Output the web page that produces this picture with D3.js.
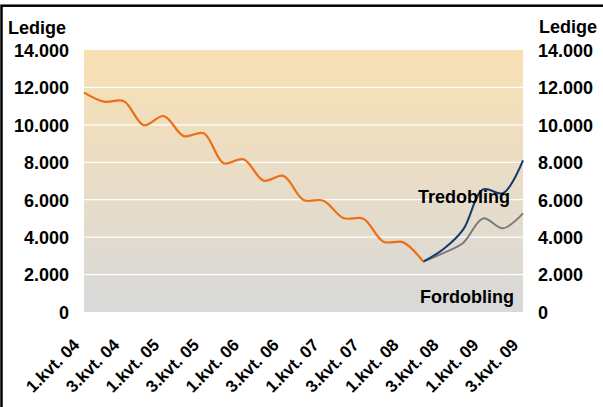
<!DOCTYPE html>
<html lang="da">
<head>
    <meta charset="UTF-8">
    <title>Ledige</title>
    <style>
        body{
            margin : 0;
            background-color: white;
        }
        text{
            font-family : "Liberation Sans", Arial, sans-serif;
            font-weight : bold;
        }
    </style>
</head>
<body>
    <script src="https://cdn.jsdelivr.net/npm/d3@7"></script>
    <script>
        // kvartaler fra 1.kvt. 04 til 3.kvt. 09
        const kvartaler = ["1.kvt. 04","2.kvt. 04","3.kvt. 04","4.kvt. 04",
                           "1.kvt. 05","2.kvt. 05","3.kvt. 05","4.kvt. 05",
                           "1.kvt. 06","2.kvt. 06","3.kvt. 06","4.kvt. 06",
                           "1.kvt. 07","2.kvt. 07","3.kvt. 07","4.kvt. 07",
                           "1.kvt. 08","2.kvt. 08","3.kvt. 08","4.kvt. 08",
                           "1.kvt. 09","2.kvt. 09","3.kvt. 09"];
        const etiketter = ["1.kvt. 04","3.kvt. 04","1.kvt. 05","3.kvt. 05","1.kvt. 06","3.kvt. 06",
                           "1.kvt. 07","3.kvt. 07","1.kvt. 08","3.kvt. 08","1.kvt. 09","3.kvt. 09"];
        const yTicks = [0, 2000, 4000, 6000, 8000, 10000, 12000, 14000];

        // faktiske ledige (1.kvt. 04 - 2.kvt. 08)
        const ledige = [11720, 11240, 11260, 9980, 10470, 9400, 9550, 7950, 8160,
                        7020, 7270, 5985, 5950, 5020, 4980, 3760, 3720, 2690];
        // forløb fra 2.kvt. 08 til 3.kvt. 09
        const tredobling = [2690, 3350, 4400, 6550, 6350, 8100];
        const fordobling = [2690, 3150, 3690, 5000, 4470, 5270];
        const startFremskriv = 17;

        const W = 603, H = 407;
        const plot = {left: 84, right: 523, top: 50, bottom: 312};

        const svg = d3.select('body').append('svg')
            .attr('width', W)
            .attr('height', H);

        const x = d3.scaleLinear().domain([0, kvartaler.length - 1]).range([plot.left, plot.right]);
        const y = d3.scaleLinear().domain([0, 14000]).range([plot.bottom, plot.top]);

        const da = d3.formatLocale({decimal: ",", thousands: ".", grouping: [3], currency: ["", ""]});
        const fmt = da.format(",d");

        // baggrund med farveovergang
        const defs = svg.append('defs');
        const grad = defs.append('linearGradient')
            .attr('id', 'bg')
            .attr('x1', 0).attr('y1', 0).attr('x2', 0).attr('y2', 1);
        grad.append('stop').attr('offset', '0%').attr('stop-color', '#f9e0b3');
        grad.append('stop').attr('offset', '100%').attr('stop-color', '#d8d9da');

        svg.append('rect')
            .attr('x', plot.left)
            .attr('y', plot.top)
            .attr('width', plot.right - plot.left)
            .attr('height', plot.bottom - plot.top)
            .attr('fill', 'url(#bg)');

        // gitterlinjer
        svg.append('g').selectAll('line')
            .data(yTicks.filter(d => d > 0 && d < 14000))
            .enter()
            .append('line')
                .attr('x1', plot.left)
                .attr('x2', plot.right)
                .attr('y1', d => y(d))
                .attr('y2', d => y(d))
                .attr('stroke', 'white')
                .attr('stroke-width', 1.3);

        // akser
        const venstre = svg.append('g')
            .attr('transform', `translate(${plot.left},0)`)
            .call(d3.axisLeft(y).tickValues(yTicks).tickFormat(fmt).tickSize(0).tickPadding(15));
        const hoejre = svg.append('g')
            .attr('transform', `translate(${plot.right},0)`)
            .call(d3.axisRight(y).tickValues(yTicks).tickFormat(fmt).tickSize(0).tickPadding(15));
        [venstre, hoejre].forEach(a => {
            a.select('.domain').remove();
            a.selectAll('text')
                .attr('font-size', 18)
                .attr('font-family', '"Liberation Sans", Arial, sans-serif')
                .attr('font-weight', 'bold')
                .attr('fill', 'black')
                .attr('dy', '0.35em');
        });

        const xAkse = svg.append('g')
            .attr('transform', `translate(0,${plot.bottom})`)
            .call(d3.axisBottom(x)
                .tickValues(d3.range(0, kvartaler.length, 2))
                .tickFormat((d, i) => etiketter[i])
                .tickSize(0));
        xAkse.select('.domain').remove();
        xAkse.selectAll('text')
            .attr('font-size', 17)
            .attr('font-family', '"Liberation Sans", Arial, sans-serif')
            .attr('font-weight', 'bold')
            .attr('fill', 'black')
            .attr('x', 0)
            .attr('y', 0)
            .attr('dy', 0)
            .attr('text-anchor', 'end')
            .attr('transform', 'translate(-4,34) rotate(-45)');

        // akse titler
        svg.append('text')
            .attr('x', 8).attr('y', 34)
            .attr('font-size', 18)
            .text('Ledige');
        svg.append('text')
            .attr('x', 539).attr('y', 33)
            .attr('font-size', 18)
            .text('Ledige');

        // linjer
        const linje = d3.line()
            .x(d => x(d[0]))
            .y(d => y(d[1]))
            .curve(d3.curveCatmullRom.alpha(0.5));

        svg.append('path')
            .datum(fordobling.map((v, i) => [startFremskriv + i, v]))
            .attr('d', linje)
            .attr('fill', 'none')
            .attr('stroke', '#7a7a7a')
            .attr('stroke-width', 2);

        svg.append('path')
            .datum(tredobling.map((v, i) => [startFremskriv + i, v]))
            .attr('d', linje)
            .attr('fill', 'none')
            .attr('stroke', '#123a6e')
            .attr('stroke-width', 2);

        svg.append('path')
            .datum(ledige.map((v, i) => [i, v]))
            .attr('d', linje)
            .attr('fill', 'none')
            .attr('stroke', '#ec6f16')
            .attr('stroke-width', 2.2);

        // annoteringer
        svg.append('text')
            .attr('x', 418).attr('y', 203)
            .attr('font-size', 18)
            .text('Tredobling');
        svg.append('text')
            .attr('x', 420).attr('y', 303)
            .attr('font-size', 18)
            .text('Fordobling');

        // ramme
        svg.append('rect')
            .attr('x', 1.5)
            .attr('y', 5.7)
            .attr('width', 700)
            .attr('height', 500)
            .attr('fill', 'none')
            .attr('stroke', 'black')
            .attr('stroke-width', 2.5);
    </script>
</body>
</html>
